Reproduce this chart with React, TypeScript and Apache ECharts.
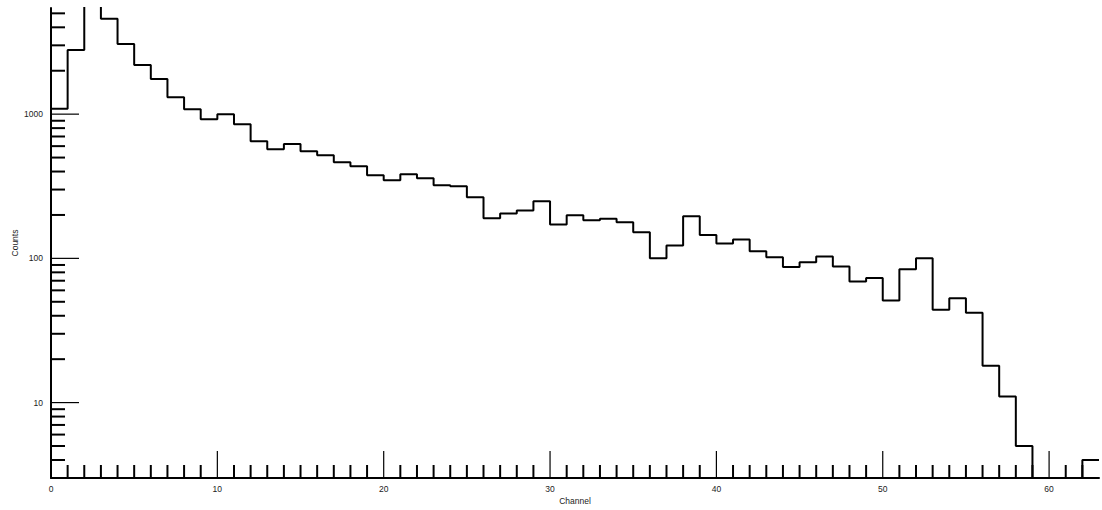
import React, { useEffect, useRef } from "react";
import * as echarts from "echarts";

// Histogram: 63 unit-width bins starting at channel 0
const CHANNELS = Array.from({ length: 63 }, (_, i) => i);
const COUNTS = [
  1090, 2780, 6500, 4580, 3060, 2190, 1750, 1310, 1080, 920,
  1000, 850, 650, 570, 620, 553, 519, 464, 435, 377,
  348, 383, 359, 321, 316, 265, 190, 205, 215, 249,
  172, 199, 184, 188, 178, 152, 100, 123, 196, 145,
  127, 135, 112, 102, 87, 94, 103, 88, 69, 73,
  51, 84, 100, 44, 53, 42, 18, 11, 5, 0,
  0, 0, 4,
];

const X_MIN = 0;
const X_MAX = 63;
const Y_MIN = 3;
const Y_MAX = 5445;

const X_TICK_LABELS = [0, 10, 20, 30, 40, 50, 60];
const X_MAJOR_TICKS = [10, 20, 30, 40, 50, 60];
const Y_TICK_LABELS = [10, 100, 1000];
const Y_DECADES = [1, 10, 100, 1000];
const Y_MANTISSAS = [2, 3, 4, 5, 6, 7, 8, 9];

const FONT = "'Liberation Sans', Helvetica, Arial, sans-serif";

export default function App() {
  const ref = useRef<HTMLDivElement | null>(null);

  useEffect(() => {
    document.body.style.margin = "0";
    if (!ref.current) return;
    const chart = echarts.init(ref.current, undefined, { renderer: "svg" });

    // step outline: one point per bin left edge, plus closing right edge
    const lineData: number[][] = CHANNELS.map((c, i) => [c, COUNTS[i] > 0 ? COUNTS[i] : Y_MIN]);
    const last = lineData[lineData.length - 1];
    lineData.push([CHANNELS[CHANNELS.length - 1] + 1, last[1]]);

    // tick marks: kind 0 = x minor, 1 = x major, 2 = y minor, 3 = y major
    const tickData: number[][] = [];
    for (let x = X_MIN + 1; x < X_MAX; x++) {
      if (X_MAJOR_TICKS.indexOf(x) >= 0) tickData.push([x, Y_MIN, 1]);
      else tickData.push([x, Y_MIN, 0]);
    }
    Y_DECADES.forEach((d) => {
      if (d >= Y_MIN && d <= Y_MAX) tickData.push([X_MIN, d, 3]);
      Y_MANTISSAS.forEach((m) => {
        const v = m * d;
        if (v > Y_MIN && v < Y_MAX) tickData.push([X_MIN, v, 2]);
      });
    });

    const isLabel = (v: number, list: number[]) =>
      list.some((t) => Math.abs(v - t) < 1e-6 * Math.max(1, t));

    chart.setOption({
      animation: false,
      backgroundColor: "#fff",
      grid: { left: 51, right: 3, top: 8, bottom: 32, containLabel: false, outerBoundsMode: "none" },
      xAxis: {
        type: "value",
        min: X_MIN,
        max: X_MAX,
        interval: 10,
        name: "Channel",
        nameLocation: "middle",
        nameGap: 18,
        nameMoveOverlap: false,
        nameTextStyle: { fontFamily: FONT, fontSize: 8.5, color: "#222" },
        axisLine: { show: true, onZero: false, lineStyle: { color: "#000", width: 2 } },
        axisTick: { show: false },
        splitLine: { show: false },
        axisLabel: {
          show: true,
          margin: 6,
          fontFamily: FONT,
          fontSize: 8.5,
          color: "#222",
          showMaxLabel: false,
          formatter: (v: number) => (isLabel(v, X_TICK_LABELS) ? String(Math.round(v)) : ""),
        },
      },
      yAxis: {
        type: "log",
        logBase: 10,
        min: Y_MIN,
        max: Y_MAX,
        name: "Counts",
        nameLocation: "middle",
        nameRotate: 90,
        nameGap: 36,
        nameMoveOverlap: false,
        nameTextStyle: { fontFamily: FONT, fontSize: 8.5, color: "#222", verticalAlign: "middle" },
        axisLine: { show: true, onZero: false, lineStyle: { color: "#000", width: 2 } },
        axisTick: { show: false },
        splitLine: { show: false },
        axisLabel: {
          show: true,
          margin: 8,
          fontFamily: FONT,
          fontSize: 8.5,
          color: "#222",
          showMinLabel: false,
          showMaxLabel: false,
          formatter: (v: number) => (isLabel(v, Y_TICK_LABELS) ? String(Math.round(v)) : ""),
        },
      },
      series: [
        {
          type: "custom",
          silent: true,
          clip: false,
          encode: { x: 0, y: 1 },
          data: tickData,
          z: 3,
          renderItem: (params: any, api: any) => {
            const xv = api.value(0);
            const yv = api.value(1);
            const kind = api.value(2);
            const p = api.coord([xv, yv]);
            let shape;
            let width = 2;
            if (kind === 0 || kind === 1) {
              const len = kind === 1 ? 27 : 13;
              width = kind === 1 ? 1.2 : 2;
              shape = { x1: p[0], y1: p[1], x2: p[0], y2: p[1] - len };
            } else {
              const len = kind === 3 ? 28 : 14;
              width = kind === 3 ? 1.2 : 2;
              shape = { x1: p[0], y1: p[1], x2: p[0] + len, y2: p[1] };
            }
            return {
              type: "line",
              shape,
              style: { stroke: "#000", lineWidth: width },
            };
          },
        },
        {
          type: "line",
          step: "end",
          data: lineData,
          showSymbol: false,
          symbol: "none",
          clip: true,
          z: 4,
          lineStyle: { color: "#000", width: 2 },
          silent: true,
        },
      ],
    });

    return () => chart.dispose();
  }, []);

  return <div ref={ref} style={{ width: 1102, height: 510 }} />;
}
